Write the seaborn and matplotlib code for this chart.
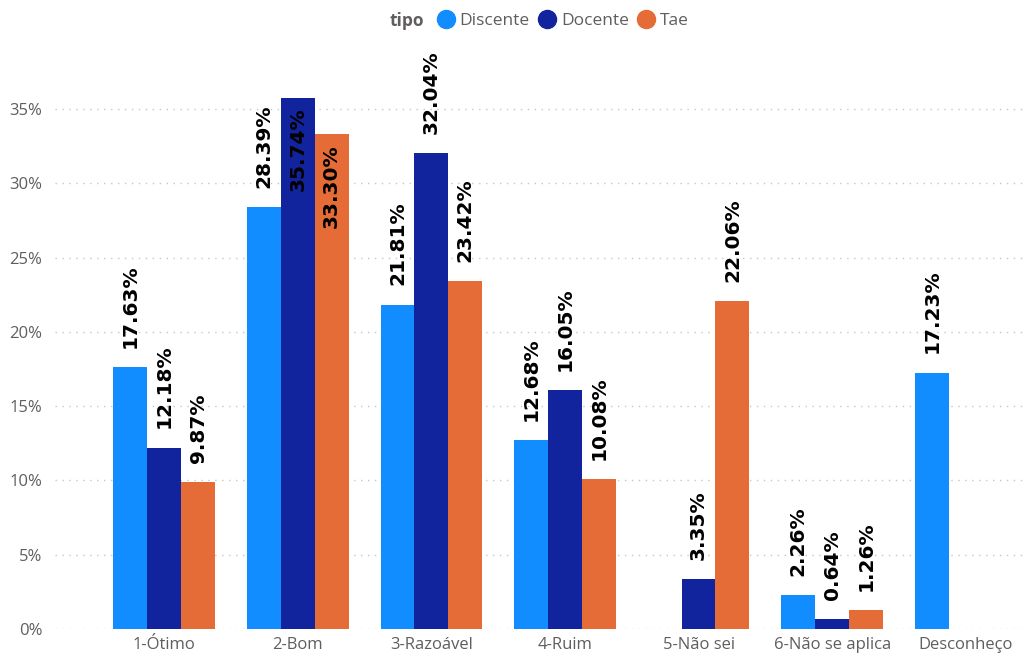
import matplotlib
matplotlib.use('Agg')
import matplotlib.pyplot as plt
import seaborn as sns
import pandas as pd
import numpy as np
from matplotlib.lines import Line2D
from matplotlib.ticker import FuncFormatter

categorias = ["1-Ótimo", "2-Bom", "3-Razoável", "4-Ruim", "5-Não sei", "6-Não se aplica", "Desconheço"]
tipos = ["Discente", "Docente", "Tae"]
discente = [17.63, 28.39, 21.81, 12.68, np.nan, 2.26, 17.23]
docente = [12.18, 35.74, 32.04, 16.05, 3.35, 0.64, np.nan]
tae = [9.87, 33.30, 23.42, 10.08, 22.06, 1.26, np.nan]
cores = ["#118DFF", "#12239E", "#E66C37"]

df = pd.DataFrame({
    "categoria": categorias * 3,
    "tipo": ["Discente"] * 7 + ["Docente"] * 7 + ["Tae"] * 7,
    "valor": discente + docente + tae,
})

sns.set_style("white")
plt.rcParams['font.family'] = ['Open Sans', 'DejaVu Sans']

fig = plt.figure(figsize=(10.31, 6.57), dpi=100)
ax = fig.add_axes([0.053, 0.043, 0.942, 0.86])

sns.barplot(data=df, x="categoria", y="valor", hue="tipo", order=categorias,
            hue_order=tipos, palette=cores, errorbar=None, width=0.76,
            saturation=1, linewidth=0, ax=ax, legend=False)

ax.set_ylim(0, 38.05)
ax.set_xlim(-0.82, 6.45)
ax.set_yticks(range(0, 36, 5))
ax.yaxis.set_major_formatter(FuncFormatter(lambda v, p: f"{int(v)}%"))
ax.grid(axis="y", linestyle=(0, (1, 4)), color="#C8C6C4", linewidth=1)
ax.set_axisbelow(True)
for s in ax.spines.values():
    s.set_visible(False)
ax.set_xlabel("")
ax.set_ylabel("")
ax.tick_params(axis="both", length=0, labelsize=12, labelcolor="#605E5C")
ax.tick_params(axis="x", pad=6)
ax.tick_params(axis="y", pad=9)

# rótulos dos valores
for p in ax.patches:
    h = p.get_height()
    if np.isnan(h) or h == 0:
        continue
    x = p.get_x() + p.get_width() / 2
    if h > 33:
        ax.annotate(f"{h:.2f}%", (x, h), xytext=(0, -7), textcoords="offset points",
                    rotation=90, ha="center", va="top", fontsize=14.5,
                    fontweight="bold", color="black", family="DejaVu Sans")
    else:
        ax.annotate(f"{h:.2f}%", (x, h), xytext=(0, 14), textcoords="offset points",
                    rotation=90, ha="center", va="bottom", fontsize=14.5,
                    fontweight="bold", color="black", family="DejaVu Sans")

# legenda
fig.text(0.378, 0.968, "tipo", fontsize=12.5, fontweight="bold", color="#605E5C", va="center")
handles = [Line2D([], [], marker="o", linestyle="", markersize=13, color=c) for c in cores]
leg = fig.legend(handles, tipos, loc="center left", bbox_to_anchor=(0.424, 0.968), ncol=3,
                 frameon=False, fontsize=12.5, handletextpad=0.3, columnspacing=0.5,
                 handlelength=1.0, borderaxespad=0, borderpad=0)
for t in leg.get_texts():
    t.set_color("#605E5C")

fig.savefig("out.png", dpi=100)
